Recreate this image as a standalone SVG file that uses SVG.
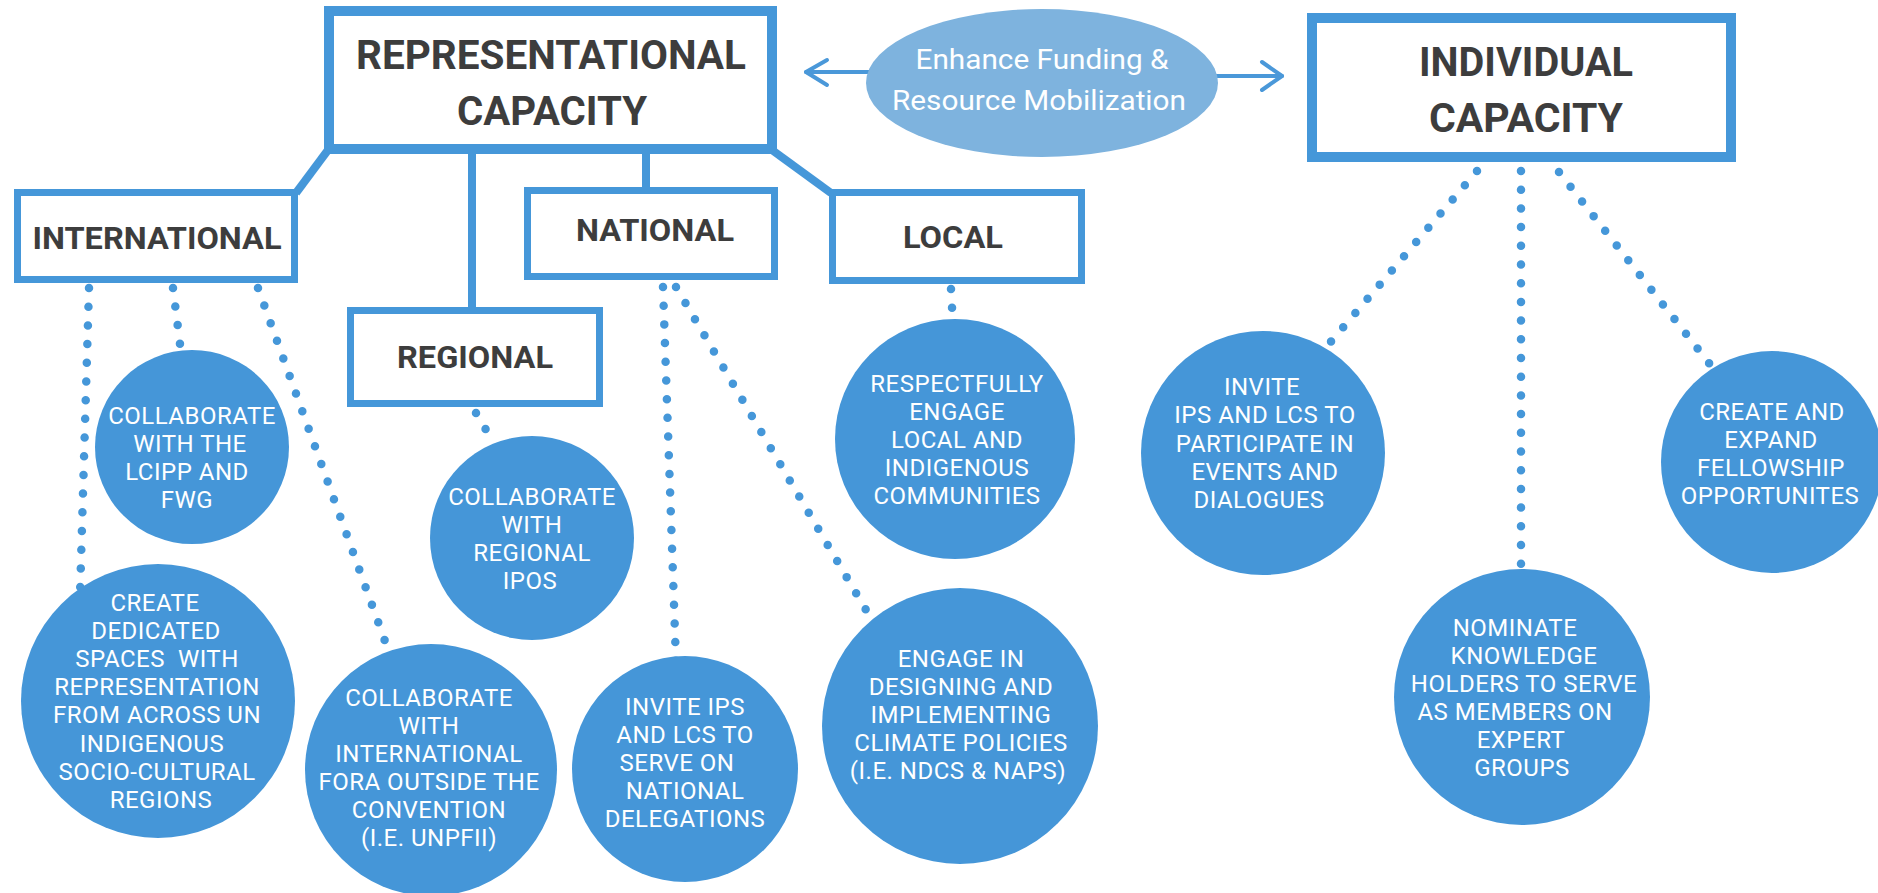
<svg xmlns="http://www.w3.org/2000/svg" width="1878" height="893" viewBox="0 0 1878 893">
<style>
.box{fill:#ffffff;stroke:#4597d9;}
.big{stroke-width:10;}
.small{stroke-width:7;}
.conn{stroke:#4597d9;stroke-width:8;fill:none;}
.dot{stroke:#4597d9;stroke-width:8.5;fill:none;stroke-linecap:round;stroke-dasharray:0 18.7;}
.arrow{stroke:#4a98d9;stroke-width:4;fill:none;stroke-linecap:round;stroke-linejoin:round;}
.circ{fill:#4596d8;}
.hd{font-family:Roboto,"Liberation Sans",sans-serif;font-weight:bold;fill:#3d3d3d;text-anchor:middle;}
.h1{font-size:40px;}
.h2{font-size:31px;}
.ct{font-family:Roboto,"Liberation Sans",sans-serif;font-size:24px;letter-spacing:0.5px;fill:#ffffff;text-anchor:middle;white-space:pre;}
.et{font-family:Roboto,"Liberation Sans",sans-serif;font-size:27px;fill:#ffffff;text-anchor:middle;}
</style>
<rect width="1878" height="893" fill="#ffffff"/>
<g id="connectors">
<line class="conn" x1="328" y1="150" x2="296" y2="193"/>
<line class="conn" x1="472" y1="153" x2="472" y2="309"/>
<line class="conn" x1="646" y1="153" x2="646" y2="189"/>
<line class="conn" x1="772" y1="150" x2="831" y2="193"/>
<path class="dot" d="M89 288 L80 595"/>
<path class="dot" d="M173 288 L182 360"/>
<path class="dot" d="M258 288 L390 655"/>
<path class="dot" d="M476 413 L495 445"/>
<path class="dot" d="M663 287 L676 662"/>
<path class="dot" d="M676 287 L876 627"/>
<path class="dot" d="M951 289 L953 325"/>
<path class="dot" d="M1477 171 L1322 352"/>
<path class="dot" d="M1521 171 L1521 578"/>
<path class="dot" d="M1559 172 L1716 372"/>
<line class="arrow" x1="869" y1="72" x2="806" y2="72"/>
<polyline class="arrow" points="827,60 806,72 827,85"/>
<line class="arrow" x1="1215" y1="76" x2="1282" y2="76"/>
<polyline class="arrow" points="1262,62 1282,76 1262,90"/>
</g>
<g id="representational">
<rect class="box big" x="329" y="11" width="443" height="138"/>
<text class="hd h1" x="551" y="69" textLength="390" lengthAdjust="spacingAndGlyphs">REPRESENTATIONAL</text>
<text class="hd h1" x="552" y="125" textLength="190" lengthAdjust="spacingAndGlyphs">CAPACITY</text>
</g>
<g id="funding">
<ellipse cx="1042" cy="83" rx="176" ry="74" fill="#7eb3de"/>
<text class="et" x="1042" y="69" textLength="253" lengthAdjust="spacingAndGlyphs">Enhance Funding &amp;</text>
<text class="et" x="1039" y="110" textLength="294" lengthAdjust="spacingAndGlyphs">Resource Mobilization</text>
</g>
<g id="individual">
<rect class="box big" x="1312" y="18" width="419" height="139"/>
<text class="hd h1" x="1526" y="76" textLength="214" lengthAdjust="spacingAndGlyphs">INDIVIDUAL</text>
<text class="hd h1" x="1526" y="132" textLength="194" lengthAdjust="spacingAndGlyphs">CAPACITY</text>
</g>
<g id="international">
<rect class="box small" x="17.5" y="192.5" width="277" height="87"/>
<text class="hd h2" x="157" y="249" textLength="249" lengthAdjust="spacingAndGlyphs">INTERNATIONAL</text>
</g>
<g id="national">
<rect class="box small" x="527.5" y="190.5" width="247" height="86"/>
<text class="hd h2" x="655" y="241" textLength="158" lengthAdjust="spacingAndGlyphs">NATIONAL</text>
</g>
<g id="local">
<rect class="box small" x="832.5" y="192.5" width="249" height="88"/>
<text class="hd h2" x="953" y="248" textLength="100" lengthAdjust="spacingAndGlyphs">LOCAL</text>
</g>
<g id="regional">
<rect class="box small" x="350.5" y="310.5" width="249" height="93"/>
<text class="hd h2" x="475" y="368" textLength="156" lengthAdjust="spacingAndGlyphs">REGIONAL</text>
</g>
<g id="lcipp">
<circle class="circ" cx="192" cy="447" r="97"/>
<text class="ct" x="192" y="424">COLLABORATE</text>
<text class="ct" x="190" y="452">WITH THE</text>
<text class="ct" x="187" y="480">LCIPP AND</text>
<text class="ct" x="187" y="508">FWG</text>
</g>
<g id="dedicated">
<circle class="circ" cx="158" cy="701" r="137"/>
<text class="ct" x="155" y="611">CREATE</text>
<text class="ct" x="156" y="639">DEDICATED</text>
<text class="ct" x="157" y="667">SPACES  WITH</text>
<text class="ct" x="157" y="695">REPRESENTATION</text>
<text class="ct" x="157" y="723">FROM ACROSS UN</text>
<text class="ct" x="152" y="752">INDIGENOUS</text>
<text class="ct" x="157" y="780">SOCIO-CULTURAL</text>
<text class="ct" x="161" y="808">REGIONS</text>
</g>
<g id="fora">
<circle class="circ" cx="431" cy="770" r="126"/>
<text class="ct" x="429" y="706">COLLABORATE</text>
<text class="ct" x="429" y="734">WITH</text>
<text class="ct" x="429" y="762">INTERNATIONAL</text>
<text class="ct" x="429" y="790">FORA OUTSIDE THE</text>
<text class="ct" x="429" y="818">CONVENTION</text>
<text class="ct" x="429" y="846">(I.E. UNPFII)</text>
</g>
<g id="regional-ipos">
<circle class="circ" cx="532" cy="538" r="102"/>
<text class="ct" x="532" y="505">COLLABORATE</text>
<text class="ct" x="532" y="533">WITH</text>
<text class="ct" x="532" y="561">REGIONAL</text>
<text class="ct" x="530" y="589">IPOS</text>
</g>
<g id="delegations">
<circle class="circ" cx="685" cy="769" r="113"/>
<text class="ct" x="685" y="715">INVITE IPS</text>
<text class="ct" x="685" y="743">AND LCS TO</text>
<text class="ct" x="677" y="771">SERVE ON</text>
<text class="ct" x="685" y="799">NATIONAL</text>
<text class="ct" x="685" y="827">DELEGATIONS</text>
</g>
<g id="policies">
<circle class="circ" cx="960" cy="726" r="138"/>
<text class="ct" x="961" y="667">ENGAGE IN</text>
<text class="ct" x="961" y="695">DESIGNING AND</text>
<text class="ct" x="961" y="723">IMPLEMENTING</text>
<text class="ct" x="961" y="751">CLIMATE POLICIES</text>
<text class="ct" x="958" y="779">(I.E. NDCS &amp; NAPS)</text>
</g>
<g id="communities">
<circle class="circ" cx="955" cy="439" r="120"/>
<text class="ct" x="957" y="392">RESPECTFULLY</text>
<text class="ct" x="957" y="420">ENGAGE</text>
<text class="ct" x="957" y="448">LOCAL AND</text>
<text class="ct" x="957" y="476">INDIGENOUS</text>
<text class="ct" x="957" y="504">COMMUNITIES</text>
</g>
<g id="events">
<circle class="circ" cx="1263" cy="453" r="122"/>
<text class="ct" x="1262" y="395">INVITE</text>
<text class="ct" x="1265" y="423">IPS AND LCS TO</text>
<text class="ct" x="1265" y="452">PARTICIPATE IN</text>
<text class="ct" x="1265" y="480">EVENTS AND</text>
<text class="ct" x="1259" y="508">DIALOGUES</text>
</g>
<g id="nominate">
<circle class="circ" cx="1522" cy="697" r="128"/>
<text class="ct" x="1515" y="636">NOMINATE</text>
<text class="ct" x="1524" y="664">KNOWLEDGE</text>
<text class="ct" x="1524" y="692">HOLDERS TO SERVE</text>
<text class="ct" x="1515" y="720">AS MEMBERS ON</text>
<text class="ct" x="1521" y="748">EXPERT</text>
<text class="ct" x="1522" y="776">GROUPS</text>
</g>
<g id="fellowship">
<circle class="circ" cx="1772" cy="462" r="111"/>
<text class="ct" x="1772" y="420">CREATE AND</text>
<text class="ct" x="1771" y="448">EXPAND</text>
<text class="ct" x="1771" y="476">FELLOWSHIP</text>
<text class="ct" x="1770" y="504">OPPORTUNITES</text>
</g>
</svg>
